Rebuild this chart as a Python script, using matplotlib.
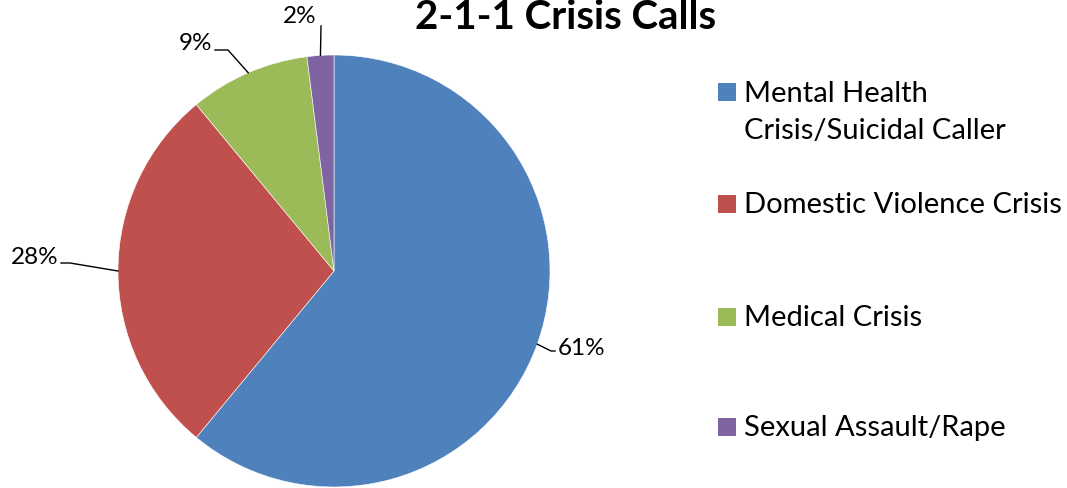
import matplotlib.pyplot as plt
from matplotlib.patches import Rectangle
import numpy as np

plt.rcParams['font.family'] = ['Lato', 'DejaVu Sans']

categories = ["Mental Health\nCrisis/Suicidal Caller", "Domestic Violence Crisis",
              "Medical Crisis", "Sexual Assault/Rape"]
shares = [61, 28, 9, 2]
colors = ["#4F81BD", "#C0504D", "#9BBB59", "#8064A2"]
pct_labels = ["61%", "28%", "9%", "2%"]

W, H = 1067, 489
fig = plt.figure(figsize=(W / 100, H / 100), dpi=100)
ax = fig.add_axes([0, 0, 1, 1])

cx, cy, r = 334, H - 272, 216
wedges, _ = ax.pie(shares, colors=colors, startangle=90, counterclock=False,
                   center=(cx, cy), radius=r,
                   wedgeprops=dict(edgecolor="white", linewidth=0.4))

# label text positions (pixel space) and leader-line elbows
label_pos = [(558, H - 349), (58, H - 258), (212, H - 44), (300, H - 17)]
elbow = [(551, H - 352), (70, H - 264), (228, H - 51), (321, H - 27)]
ha = ["left", "right", "right", "center"]

for w, txt, pos, elb, h in zip(wedges, pct_labels, label_pos, elbow, ha):
    ang = np.deg2rad((w.theta1 + w.theta2) / 2)
    ex, ey = cx + r * np.cos(ang), cy + r * np.sin(ang)
    if h == "center":
        ax.plot([ex, elb[0]], [ey, elb[1]], color="black", lw=1)
    else:
        end_x = pos[0] - 3 if h == "left" else pos[0] + 3
        ax.plot([ex, elb[0], end_x], [ey, elb[1], elb[1]], color="black", lw=1)
    ax.text(pos[0], pos[1], txt, ha=h, va="center", fontsize=17.5)

# legend drawn by hand to keep Excel's uneven spacing
leg_y = [93, 205, 318, 428]
for lab, col, y in zip(categories, colors, leg_y):
    ax.add_patch(Rectangle((718, H - y - 9), 18, 18, facecolor=col, edgecolor="none"))
    if "\n" in lab:
        ax.text(744, H - y - 19.5, lab, ha="left", va="center", fontsize=21, linespacing=1.55)
    else:
        ax.text(744, H - y, lab, ha="left", va="center", fontsize=21)

ax.text(566, H - 29, "2-1-1 Crisis Calls", ha="center", va="baseline",
        fontsize=29, fontweight="bold")

ax.set_xlim(0, W)
ax.set_ylim(0, H)
ax.set_aspect("equal")
ax.axis("off")

fig.savefig("out.png", dpi=100)
